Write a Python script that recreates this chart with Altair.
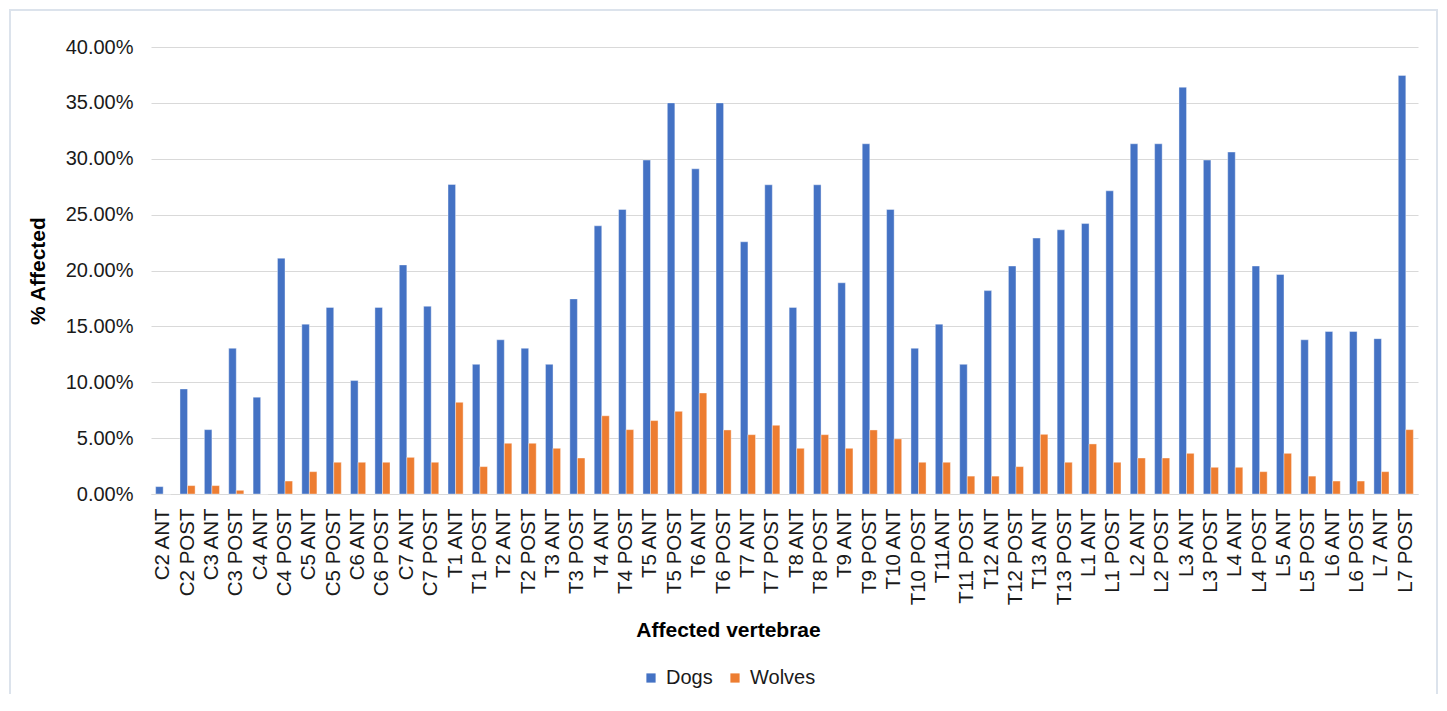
import altair as alt
import pandas as pd

categories = ["C2 ANT", "C2 POST", "C3 ANT", "C3 POST", "C4 ANT", "C4 POST",
              "C5 ANT", "C5 POST", "C6 ANT", "C6 POST", "C7 ANT", "C7 POST",
              "T1 ANT", "T1 POST", "T2 ANT", "T2 POST", "T3 ANT", "T3 POST",
              "T4 ANT", "T4 POST", "T5 ANT", "T5 POST", "T6 ANT", "T6 POST",
              "T7 ANT", "T7 POST", "T8 ANT", "T8 POST", "T9 ANT", "T9 POST",
              "T10 ANT", "T10 POST", "T11ANT", "T11 POST", "T12 ANT", "T12 POST",
              "T13 ANT", "T13 POST", "L1 ANT", "L1 POST", "L2 ANT", "L2 POST",
              "L3 ANT", "L3 POST", "L4 ANT", "L4 POST", "L5 ANT", "L5 POST",
              "L6 ANT", "L6 POST", "L7 ANT", "L7 POST"]

dogs = [0.66, 9.40, 5.76, 13.04, 8.66, 21.1,
        15.2, 16.7, 10.15, 16.7, 20.5, 16.8,
        27.7, 11.6, 13.8, 13.04, 11.6, 17.46,
        24.0, 25.46, 29.88, 35.0, 29.1, 35.0,
        22.57, 27.67, 16.7, 27.67, 18.9, 31.34,
        25.46, 13.04, 15.2, 11.6, 18.2, 20.4,
        22.9, 23.64, 24.2, 27.13, 31.34, 31.34,
        36.4, 29.88, 30.6, 20.4, 19.64, 13.8,
        14.54, 14.54, 13.9, 37.46]

wolves = [0.0, 0.75, 0.75, 0.33, 0.0, 1.16,
          2.0, 2.84, 2.84, 2.84, 3.28, 2.84,
          8.2, 2.45, 4.54, 4.54, 4.09, 3.22,
          7.0, 5.76, 6.57, 7.4, 9.04, 5.73,
          5.31, 6.15, 4.09, 5.31, 4.09, 5.73,
          4.93, 2.84, 2.84, 1.6, 1.6, 2.45,
          5.34, 2.84, 4.48, 2.84, 3.22, 3.22,
          3.64, 2.39, 2.39, 2.0, 3.64, 1.6,
          1.16, 1.16, 2.0, 5.76]

series = ["Dogs", "Wolves"]
colors = ["#4472C4", "#ED7D31"]
y_ticks = [0, 0.05, 0.10, 0.15, 0.20, 0.25, 0.30, 0.35, 0.40]

rows = []
for i, c in enumerate(categories):
    rows.append({"vertebra": c, "group": "Dogs", "value": dogs[i] / 100})
    rows.append({"vertebra": c, "group": "Wolves", "value": wolves[i] / 100})
df = pd.DataFrame(rows)

W = 1267
H = 447
FONT = "Liberation Sans"

bars = alt.Chart(df).mark_bar(stroke="white", strokeWidth=0.4).encode(
    x=alt.X("vertebra:N", sort=categories,
            scale=alt.Scale(paddingInner=0.38, paddingOuter=0.19),
            axis=alt.Axis(title="Affected vertebrae", labelAngle=-90,
                          labelAlign="right", labelBaseline="middle",
                          labelFontSize=20.5, labelColor="#1a1a1a", labelFont=FONT,
                          labelPadding=14, ticks=False, labelOverlap=False,
                          domainColor="#D9D9D9", domainWidth=1,
                          titleFont=FONT, titleFontSize=21, titleFontWeight="bold",
                          titleColor="#000000", titleBaseline="middle",
                          titleAlign="center", titleX=577, titleY=136)),
    xOffset=alt.XOffset("group:N", sort=series),
    y=alt.Y("value:Q", scale=alt.Scale(domain=[0, 0.40], nice=False),
            axis=alt.Axis(title="% Affected", format=".2%", values=y_ticks,
                          labelOverlap=False,
                          labelFontSize=20, labelColor="#1a1a1a", labelFont=FONT,
                          labelPadding=18, ticks=False, domain=False,
                          gridColor="#D9D9D9", gridWidth=1.2,
                          titleFont=FONT, titleFontSize=21, titleFontWeight="bold",
                          titleColor="#000000", titleBaseline="middle",
                          titleX=-113, titleY=H / 2)),
    color=alt.Color("group:N", sort=series,
                    scale=alt.Scale(domain=series, range=colors),
                    legend=alt.Legend(title=None, orient="none", direction="horizontal",
                                      legendX=490, legendY=621,
                                      symbolType="square", symbolSize=85,
                                      symbolStrokeWidth=0,
                                      labelFont=FONT, labelFontSize=20,
                                      labelColor="#1a1a1a", labelOffset=5,
                                      columnPadding=12)),
)

frame = alt.Chart(pd.DataFrame({"a": [0]})).mark_rect(
    fill=None, stroke="#DCE3EC", strokeWidth=2, clip=False
).encode(
    x=alt.value(-141), x2=alt.value(W + 19),
    y=alt.value(-37), y2=alt.value(H + 215),
)

chart = alt.layer(frame, bars).properties(
    width=W, height=H,
    padding={"left": 143, "top": 39, "right": 20, "bottom": 200},
    autosize=alt.AutoSizeParams(type="none"),
    background="white",
).configure_view(stroke=None)

chart.save("out.html", embed_options={"renderer": "svg", "actions": False})
